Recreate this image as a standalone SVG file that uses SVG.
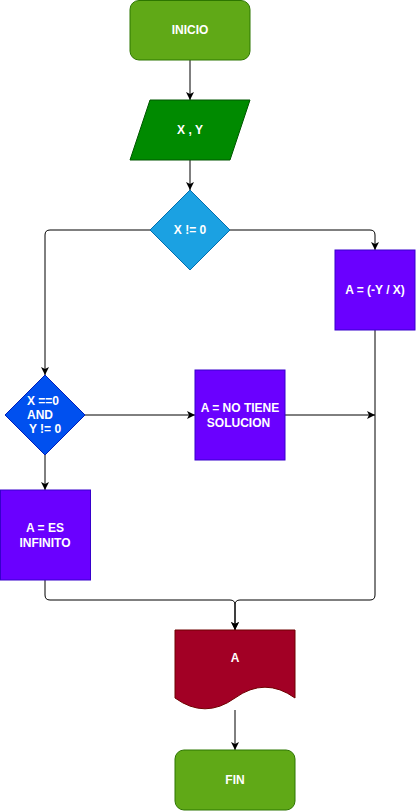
<svg xmlns="http://www.w3.org/2000/svg" width="416" height="811" viewBox="0 0 416 811">
<style>
text{font-family:"Liberation Sans",Arial,sans-serif;font-size:12px;font-weight:bold;fill:#ffffff;text-anchor:middle}
.l{text-anchor:start}
.edge{fill:none;stroke:#000000;stroke-width:1}
.term{fill:#60a917;stroke:#2d7600}
.proc{fill:#6a00ff;stroke:#3700cc}
</style>
<defs>
<marker id="arr" markerUnits="userSpaceOnUse" markerWidth="10" markerHeight="10" refX="8" refY="4" orient="auto">
<path d="M0,0 L8,4 L0,8 L2,4 z" fill="#000000"/>
</marker>
</defs>
<g id="connectors">
<path class="edge" d="M190,60 L190,100" marker-end="url(#arr)"/>
<path class="edge" d="M190,160 L190,190" marker-end="url(#arr)"/>
<path class="edge" d="M150,230 L50,230 Q45,230 45,235 L45,375" marker-end="url(#arr)"/>
<path class="edge" d="M230,230 L370,230 Q375,230 375,235 L375,250" marker-end="url(#arr)"/>
<path class="edge" d="M85,415 L195,415" marker-end="url(#arr)"/>
<path class="edge" d="M285,415 L375,415" marker-end="url(#arr)"/>
<path class="edge" d="M45,455 L45,490" marker-end="url(#arr)"/>
<path class="edge" d="M45,580 L45,595 Q45,600 50,600 L230,600 Q235,600 235,605 L235,630" marker-end="url(#arr)"/>
<path class="edge" d="M375,330 L375,595 Q375,600 370,600 L240,600 Q235,600 235,605 L235,630" marker-end="url(#arr)"/>
<path class="edge" d="M235,710 L235,750" marker-end="url(#arr)"/>
</g>
<g id="inicio">
<rect class="term" x="130" y="0.5" width="120" height="59.5" rx="9" ry="9"/>
<text x="190" y="34.3">INICIO</text>
</g>
<g id="entrada">
<path d="M150,100 L250,100 L230,160 L130,160 Z" fill="#008a00" stroke="#005700"/>
<text x="190" y="134.3">X , Y</text>
</g>
<g id="cond1">
<path d="M190,190 L230,230 L190,270 L150,230 Z" fill="#1ba1e2" stroke="#006eaf"/>
<text x="190" y="234.3">X != 0</text>
</g>
<g id="calc">
<rect class="proc" x="335" y="250" width="80" height="80"/>
<text x="375" y="294.3">A = (-Y / X)</text>
</g>
<g id="cond2">
<path d="M45,375 L85,415 L45,455 L5,415 Z" fill="#0050ef" stroke="#001dbc"/>
<text class="l" x="27" y="405.3">X ==0</text>
<text class="l" x="27" y="419.3">AND</text>
<text class="l" x="29" y="433.3">Y != 0</text>
</g>
<g id="nosol">
<rect class="proc" x="195" y="370" width="90" height="90"/>
<text x="240" y="412">A = NO TIENE</text>
<text x="238.5" y="426.5">SOLUCION</text>
</g>
<g id="infinito">
<rect class="proc" x="0.5" y="490" width="90" height="90"/>
<text x="45" y="532">A = ES</text>
<text x="45" y="547">INFINITO</text>
</g>
<g id="salida">
<path d="M175,630 L295,630 L295,698 Q265,676.4 235,698 Q205,719.6 175,698 Z" fill="#a20025" stroke="#6f0000"/>
<text x="235" y="662.3">A</text>
</g>
<g id="fin">
<rect class="term" x="175" y="750" width="120" height="60" rx="9" ry="9"/>
<text x="235" y="784.3">FIN</text>
</g>
</svg>
